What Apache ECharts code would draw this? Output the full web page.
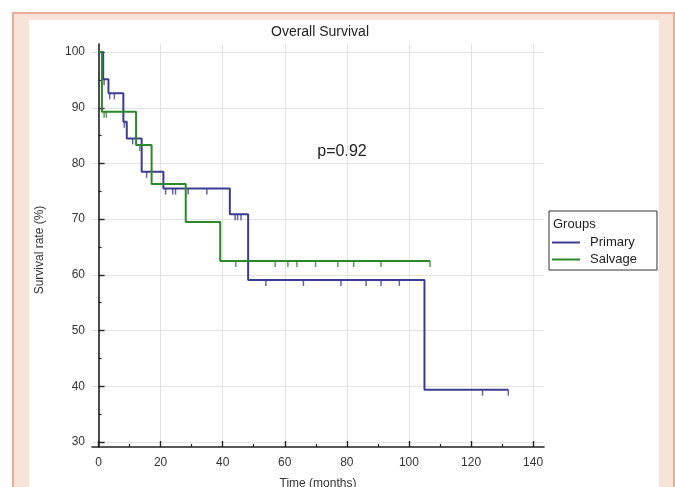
<!DOCTYPE html>
<html>
<head>
<meta charset="utf-8">
<script src="https://cdn.jsdelivr.net/npm/echarts@6/dist/echarts.min.js"></script>
<style>
html,body{margin:0;padding:0;width:675px;height:487px;overflow:hidden;background:#fff;}
#frame{position:absolute;left:12px;top:12px;width:659px;height:500px;background:#f8e3d9;border-left:2px solid #e8ad98;border-top:2px solid #e8ad98;border-right:2px solid #e8ad98;}
#inner{position:absolute;left:29px;top:20px;width:630px;height:480px;background:#fff;}
#chart{position:absolute;left:0;top:0;width:675px;height:487px;}
</style>
</head>
<body>
<div id="frame"></div>
<div id="inner"></div>
<div id="chart"></div>
<script>
// Kaplan-Meier step points [time (months), survival %]
const primarySteps = [[0,100],[1.5,95.1],[3.2,92.6],[8.0,87.5],[9.1,84.5],[13.9,78.5],[20.9,75.5],[42.3,70.9],[48.2,59.1],[105.0,39.4],[132.0,39.4]];
const salvageSteps = [[0,100],[1.1,89.3],[12.1,83.3],[17.1,76.3],[28.1,69.5],[39.2,62.5],[106.8,62.5]];
// censored observations [time, survival %]
const primaryCensor = [[1.8,95.1],[3.6,92.6],[5.1,92.6],[8.3,87.5],[11.0,84.5],[15.5,78.5],[21.6,75.5],[23.9,75.5],[24.8,75.5],[28.9,75.5],[34.9,75.5],[44.0,70.9],[44.8,70.9],[45.9,70.9],[53.9,59.1],[66.0,59.1],[78.1,59.1],[86.2,59.1],[91.0,59.1],[96.9,59.1],[123.7,39.4],[132.0,39.4]];
const salvageCensor = [[1.8,89.3],[2.5,89.3],[13.3,83.3],[44.2,62.5],[56.9,62.5],[61.0,62.5],[63.9,62.5],[69.9,62.5],[77.1,62.5],[82.2,62.5],[91.0,62.5],[106.8,62.5]];
const xTicks = [0,20,40,60,80,100,120,140];
const xMinorTicks = [10,30,50,70,90,110,130];
const yTicks = [30,40,50,60,70,80,90,100];
const yMinorTicks = [35,45,55,65,75,85,95];
const groupNames = ['Primary','Salvage'];
const pText = 'p=0.92';

const blue = '#3c3c92';
const green = '#2b882b';
const font = 'Liberation Sans, Arial, sans-serif';

const chart = echarts.init(document.getElementById('chart'), null, {renderer:'canvas'});
const xRange = {min:-2.1, max:143.5};
const yRange = {min:29.1, max:101.45};

chart.setOption({
  animation:false,
  backgroundColor:'transparent',
  textStyle:{fontFamily:font},
  grid:{left:92, top:44, width:452, height:403, containLabel:false, outerBoundsMode:'none'},
  xAxis:[
    {type:'value', min:xRange.min, max:xRange.max, position:'bottom',
     name:'Time (months)', nameLocation:'middle', nameGap:31,
     nameTextStyle:{fontSize:12, color:'#333', fontFamily:font},
     axisLine:{show:true, lineStyle:{color:'#222', width:1.6}},
     axisTick:{show:true, inside:true, length:6, customValues:xTicks, lineStyle:{color:'#222', width:1.4}},
     axisLabel:{show:true, customValues:xTicks, margin:10, fontSize:12, color:'#333', fontFamily:font},
     splitLine:{show:true, lineStyle:{color:'#e3e3e3', width:1}}},
    {type:'value', min:xRange.min, max:xRange.max, position:'bottom',
     axisLine:{show:false},
     axisTick:{show:true, inside:true, length:3, customValues:xMinorTicks, lineStyle:{color:'#222', width:1.2}},
     axisLabel:{show:false}, splitLine:{show:false}}
  ],
  yAxis:[
    {type:'value', min:yRange.min, max:yRange.max, position:'left',
     name:'Survival rate (%)', nameLocation:'middle', nameGap:46,
     nameTextStyle:{fontSize:12, color:'#333', fontFamily:font, padding:[0,0,0,-9]},
     axisLine:{show:true, lineStyle:{color:'#222', width:1.6}},
     axisTick:{show:true, inside:true, length:6, customValues:yTicks, lineStyle:{color:'#222', width:1.4}},
     axisLabel:{show:true, customValues:yTicks, margin:7, fontSize:12, color:'#333', fontFamily:font},
     splitLine:{show:true, lineStyle:{color:'#e3e3e3', width:1}}},
    {type:'value', min:yRange.min, max:yRange.max, position:'left',
     axisLine:{show:false},
     axisTick:{show:true, inside:true, length:3, customValues:yMinorTicks, lineStyle:{color:'#222', width:1.2}},
     axisLabel:{show:false}, splitLine:{show:false}}
  ],
  legend:{
    data:groupNames, orient:'vertical', left:549, top:211,
    padding:[25,20,4,3], itemGap:4, itemWidth:28, itemHeight:2, icon:'rect',
    borderColor:'#333', borderWidth:1,
    textStyle:{fontSize:13, color:'#222', fontFamily:font, padding:[0,0,0,5]}
  },
  graphic:[
    {type:'text', x:320, y:32, style:{text:'Overall Survival', align:'center', verticalAlign:'middle', fontSize:14, fontFamily:font, fill:'#222'}},
    {type:'text', x:342, y:152, style:{text:pText, align:'center', verticalAlign:'middle', fontSize:16, fontFamily:font, fill:'#222'}},
    {type:'text', x:553, y:224, style:{text:'Groups', align:'left', verticalAlign:'middle', fontSize:13, fontFamily:font, fill:'#222'}}
  ],
  series:[
    {name:groupNames[0], type:'line', step:'end', data:primarySteps, showSymbol:false, symbol:'none',
     lineStyle:{color:blue, width:2}, itemStyle:{color:blue}, z:3},
    {name:groupNames[0]+' censored', type:'scatter', data:primaryCensor, symbol:'rect', symbolSize:[1.5,6], symbolOffset:[0,3],
     itemStyle:{color:blue}, z:3},
    {name:groupNames[1], type:'line', step:'end', data:salvageSteps, showSymbol:false, symbol:'none',
     lineStyle:{color:green, width:2}, itemStyle:{color:green}, z:4},
    {name:groupNames[1]+' censored', type:'scatter', data:salvageCensor, symbol:'rect', symbolSize:[1.5,6], symbolOffset:[0,3],
     itemStyle:{color:green}, z:4}
  ]
});
</script>
</body>
</html>
